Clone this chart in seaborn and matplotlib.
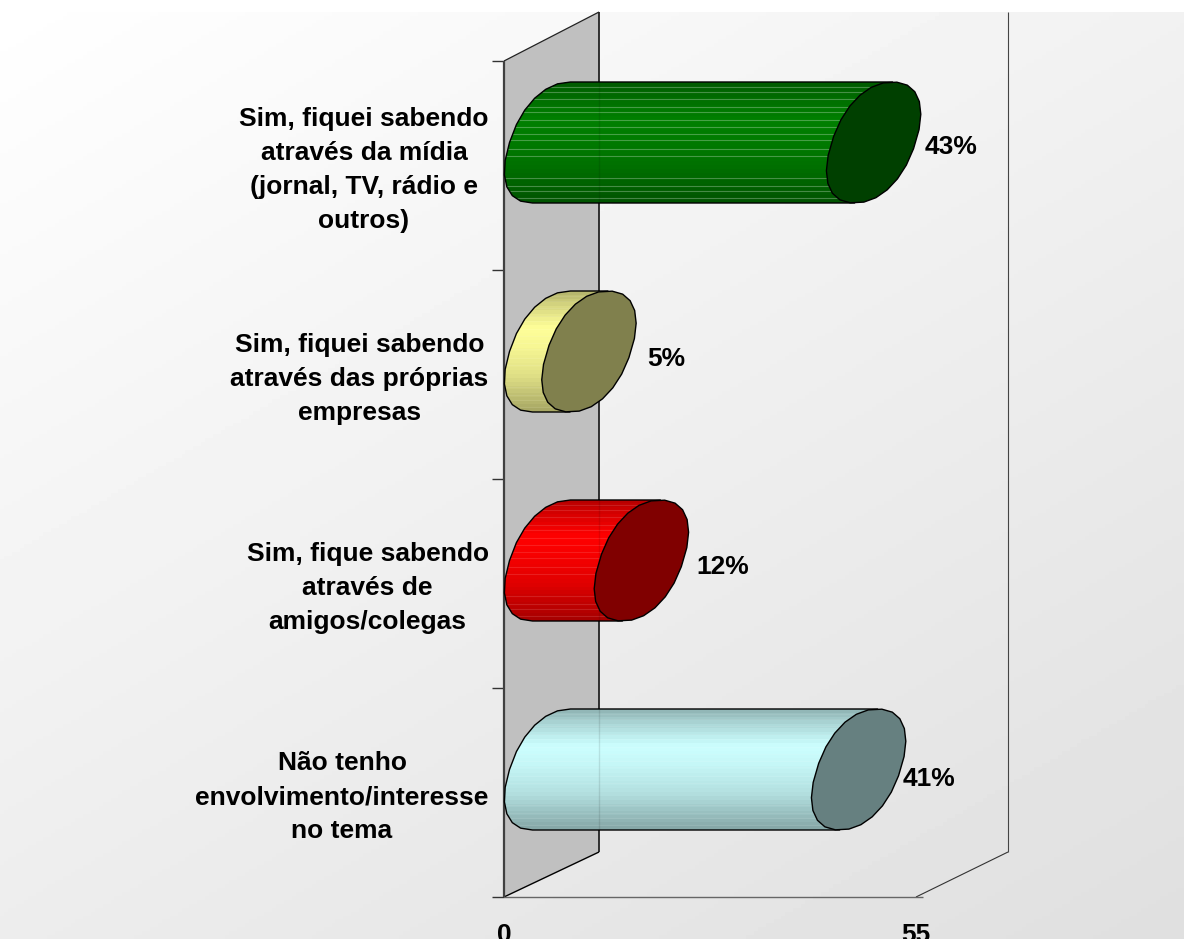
import numpy as np
import pandas as pd
import matplotlib
matplotlib.use("Agg")
import matplotlib.pyplot as plt
from matplotlib.colors import to_rgb
from matplotlib.patches import Polygon, Rectangle
from matplotlib.transforms import ScaledTranslation
import seaborn as sns

categories = [
    "Sim, fiquei sabendo\natravés da mídia\n(jornal, TV, rádio e\noutros)",
    "Sim, fiquei sabendo\natravés das próprias\nempresas",
    "Sim, fique sabendo\natravés de\namigos/colegas",
    "Não tenho\nenvolvimento/interesse\nno tema",
]
values = [43, 5, 12, 41]
value_labels = ["43%", "5%", "12%", "41%"]
colors = ["#008000", "#FFFF99", "#FF0000", "#CCFFFF"]
cap_colors = ["#004000", "#80804D", "#800000", "#668080"]
x_ticks = [0, 55]

# label placement relative to bar end (pixels)
label_dx = [125, 125, 129, 118]
label_dy = [5, 8, 6, 9]
# faint banding lines across the cylinders (fraction of height)
stripes = [.04, .08, .14, .21, .25, .31, .37, .43, .48, .55, .61, .79, .86, .90, .96]
stripe_alpha = [.28, .08, .12, .08]

W, H = 1184, 939
X0, X1, Y0, Y1 = 504, 916, 61, 897   # plot box in pixels
PXX = (X1 - X0) / 55
PXY = (Y1 - Y0) / 4
BAR_H = 121 / PXY
DY = 23 / PXY
DX = 47.5 / PXX
A = 42 / PXX
S = 19 / PXX
P = 0.9
FS = 19

def spow(v):
    return np.sign(v) * np.abs(v) ** P

sns.set_theme(style="white")
plt.rcParams["font.family"] = ["Liberation Sans", "DejaVu Sans"]
fig = plt.figure(figsize=(W / 100, H / 100), dpi=100, facecolor="white")

# background diagonal gradient
bg = fig.add_axes([0, 0, 1, 1], zorder=0)
gx, gy = np.meshgrid(np.linspace(0, 1, 300), np.linspace(0, 1, 240))
bg.imshow(1 - 0.125 * (0.55 * gx + 0.75 * gy) / 1.3, cmap="gray", vmin=0, vmax=1,
          aspect="auto", extent=(0, W, H, 0))
bg.add_patch(Rectangle((0, 0), W, 12, color="white", lw=0))
bg.set_xlim(0, W)
bg.set_ylim(H, 0)
bg.axis("off")

ax = fig.add_axes([X0 / W, 1 - Y1 / H, (X1 - X0) / W, (Y1 - Y0) / H], zorder=1)
ax.patch.set_visible(False)

df = pd.DataFrame({"categoria": categories, "valor": values})
sns.barplot(data=df, x="valor", y="categoria", hue="categoria", palette=colors,
            hue_order=categories, order=categories, width=BAR_H, saturation=1,
            dodge=False, legend=False, ax=ax, zorder=3)
ax.set_xlim(0, 55)
ax.set_ylim(3.5, -0.5)
ax.autoscale(False)
bars = [p for p in ax.patches if isinstance(p, Rectangle)]

# 3-D frame
wall_dx = 95 / PXX
far_dx = 92 / PXX
dy_top, dy_bot = 49 / PXY, 45 / PXY
wall = Polygon([(0, -.5), (wall_dx, -.5 - dy_top), (wall_dx, 3.5 - dy_bot), (0, 3.5)],
               closed=True, fc="#C0C0C0", ec="none", zorder=1, clip_on=False)
ax.add_patch(wall)
lk = dict(clip_on=False, zorder=2, solid_capstyle="butt")
ax.plot([wall_dx, wall_dx], [-.5 - dy_top, 3.5 - dy_bot], color="#222222", lw=1.3, **lk)
ax.plot([0, wall_dx], [-.5, -.5 - dy_top], color="#222222", lw=0.9, **lk)
ax.plot([0, wall_dx], [3.5, 3.5 - dy_bot], color="black", lw=1.0, **lk)
ax.plot([0, 0], [-.5, 3.5], color="#404040", lw=1.6, **lk)
ax.plot([55, 55 + far_dx], [3.5, 3.5 - dy_bot], color="#333333", lw=0.8, **lk)
ax.plot([55 + far_dx, 55 + far_dx], [3.5 - dy_bot, -.5 - dy_top], color="#444444", lw=0.8, **lk)
ax.plot([0, 56], [3.5, 3.5], color="#666666", lw=1.0, **lk)

# turn each seaborn bar into a faceted cylinder
t_left = np.linspace(-np.pi / 2, -3 * np.pi / 2, 13)
t_full = np.linspace(0, 2 * np.pi, 25)[:-1] + 0.08
mult_stops = ([0, .12, .3, .45, .7, 1], [.72, .85, 1, .97, .88, .66])
for i, patch in enumerate(bars):
    top = patch.get_y() - DY
    hh = patch.get_height() / 2
    cy = top + hh
    c0 = patch.get_x() + DX
    c1 = c0 + patch.get_width()
    patch.set_x(c0)
    patch.set_y(top)
    patch.set_linewidth(0)

    lu, lv = spow(np.cos(t_left)), spow(np.sin(t_left))
    lx = c0 + A * lu - S * lv
    ly = cy + hh * lv
    hull = np.vstack([np.column_stack([lx, ly]),
                      [[c1 - S, cy + hh], [c1 + S, cy - hh]]])
    body = Polygon(hull, closed=True, fc="none", ec="black", lw=1.0, zorder=6,
                   joinstyle="round", clip_on=False)
    ax.add_patch(body)
    patch.set_clip_path(body)

    rows = np.linspace(0, 1, 32)
    m = np.interp(rows, *mult_stops)[:, None, None]
    img = np.clip(m * np.array(to_rgb(colors[i]))[None, None, :], 0, 1)
    im = ax.imshow(img, extent=(c0 - A - S, c1 + S, cy + hh, cy - hh), aspect="auto",
                   interpolation="nearest", zorder=4)
    im.set_clip_path(body)
    for f in stripes:
        ln, = ax.plot([c0 - A - S, c1 + S], [top + f * 2 * hh] * 2, color="white",
                      lw=0.8, alpha=stripe_alpha[i], zorder=5)
        ln.set_clip_path(body)
    if values[i] > 6:
        ln, = ax.plot([wall_dx, wall_dx], [top, top + 2 * hh], color="black", lw=1,
                      alpha=.1, zorder=5)
        ln.set_clip_path(body)

    cu, cv = spow(np.cos(t_full)), spow(np.sin(t_full))
    cap = np.column_stack([c1 + A * cu - S * cv, cy + hh * cv])
    ax.add_patch(Polygon(cap, closed=True, fc=cap_colors[i], ec="black", lw=1.0,
                         zorder=7, joinstyle="round", clip_on=False))

    ax.annotate(value_labels[i], (values[i], cy), xycoords="data",
                xytext=(label_dx[i] * .72, -label_dy[i] * .72), textcoords="offset points",
                ha="center", va="center", fontsize=FS, fontweight="bold",
                color="black", zorder=8, annotation_clip=False)

ax.set_xlim(0, 55)
ax.set_ylim(3.5, -0.5)

for s in ax.spines.values():
    s.set_visible(False)
ax.set_xlabel("")
ax.set_ylabel("")
ax.set_xticks(x_ticks)
ax.set_xticklabels([str(v) for v in x_ticks], fontsize=FS, fontweight="bold", color="black")
ax.tick_params(axis="x", length=11, width=1, color="#666666", pad=7.5)
ax.set_yticks(range(4))
ax.set_yticklabels(categories, fontsize=FS, fontweight="bold", color="black",
                   multialignment="center", linespacing=1.53)
ax.tick_params(axis="y", which="major", length=0, pad=11)
ax.set_yticks(np.arange(-.5, 4), minor=True)
ax.tick_params(axis="y", which="minor", length=8.5, width=1, color="#333333", left=True)

up = ScaledTranslation(0, 3 / 100, fig.dpi_scale_trans)
for lab in ax.get_yticklabels():
    lab.set_transform(lab.get_transform() + up)

fig.savefig("out.png", dpi=100)
